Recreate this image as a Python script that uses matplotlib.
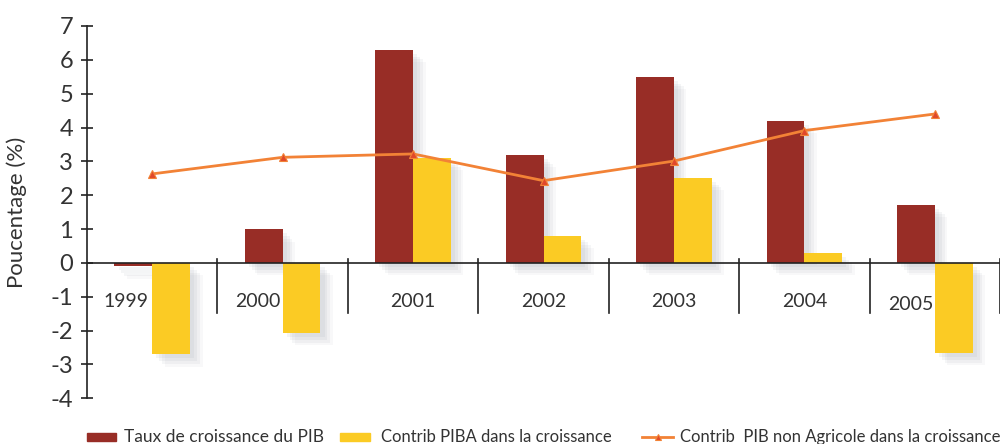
import numpy as np
import matplotlib
matplotlib.use('Agg')
import matplotlib.pyplot as plt
import matplotlib.patheffects as pe
from matplotlib.patches import Rectangle
from matplotlib.lines import Line2D

# Data
years = ['1999', '2000', '2001', '2002', '2003', '2004', '2005']
taux_pib = [-0.1, 1.0, 6.3, 3.2, 5.5, 4.2, 1.72]
contrib_piba = [-2.7, -2.07, 3.11, 0.81, 2.52, 0.30, -2.66]
contrib_non_agri = [2.63, 3.12, 3.22, 2.43, 3.01, 3.91, 4.40]
# horizontal nudge of year labels (to avoid negative bars)
label_shift = [-0.2, -0.19, 0, 0, 0, 0, -0.18]

RED = '#982D26'
YELLOW = '#FBCB24'
ORANGE = '#F28236'
MARKER = '#E0482A'
TEXT = '#333333'

plt.rcParams['font.family'] = ['Lato', 'DejaVu Sans']
plt.rcParams['axes.unicode_minus'] = False

fig = plt.figure(figsize=(10.07, 4.44), dpi=100)
ax = fig.add_axes([87 / 1007, 1 - 398.3 / 444, (1000 - 87) / 1007, (398.3 - 26) / 444])

x = np.arange(len(years))
w = 0.29

# soft shadow under bars
shadow = [pe.SimplePatchShadow(offset=(o, -o), shadow_rgbFace='#7a8290', alpha=a)
          for o, a in [(9, 0.05), (7, 0.07), (5, 0.08), (3, 0.08)]] + [pe.Normal()]

ax.bar(x - w / 2, taux_pib, w, color=RED, path_effects=shadow, zorder=2)
ax.bar(x + w / 2, contrib_piba, w, color=YELLOW, path_effects=shadow, zorder=2)
ax.plot(x, contrib_non_agri, color=ORANGE, lw=2, marker='^', ms=6,
        markerfacecolor=MARKER, markeredgecolor=ORANGE, markeredgewidth=0.8, zorder=4)

# zero line and category separators
ax.axhline(0, color='#222222', lw=1.2, zorder=3)
for b in np.arange(-0.5, len(years), 1.0)[1:]:
    ax.plot([b, b], [0.13, -1.48], color='#222222', lw=1.2, zorder=3)

for i, yr in enumerate(years):
    yy = -1.23 if yr == '2005' else -1.14
    ax.text(x[i] + label_shift[i], yy, yr, ha='center', va='center',
            fontsize=14, color=TEXT, zorder=5)

ax.set_xlim(-0.5, len(years) - 0.5)
ax.set_ylim(-4, 7)
ax.set_yticks(range(-4, 8))
ax.set_xticks([])
for s in ['top', 'right', 'bottom']:
    ax.spines[s].set_visible(False)
ax.spines['left'].set_color('#222222')
ax.spines['left'].set_linewidth(1.2)
ax.tick_params(axis='y', direction='inout', length=8, width=1.2,
               labelsize=17, colors='#222222', pad=6)
for lab in ax.get_yticklabels():
    lab.set_color(TEXT)
ax.set_ylabel('Poucentage (%)', fontsize=16, color=TEXT)
ax.yaxis.set_label_coords(-0.066, 0.5)

# legend drawn manually at the bottom
ly = 1 - 437 / 444
fig.patches.append(Rectangle((87 / 1007, 1 - 441 / 444), 29 / 1007, 8 / 444,
                             transform=fig.transFigure, color=RED))
fig.text(124 / 1007, ly, 'Taux de croissance du PIB', fontsize=12.5, color=TEXT, va='center')
fig.patches.append(Rectangle((340 / 1007, 1 - 441 / 444), 30 / 1007, 8 / 444,
                             transform=fig.transFigure, color=YELLOW))
fig.text(381 / 1007, ly, 'Contrib PIBA dans la croissance', fontsize=12, color=TEXT, va='center')
fig.lines.append(Line2D([642 / 1007, 673 / 1007], [ly, ly], transform=fig.transFigure,
                        color=ORANGE, lw=2))
fig.lines.append(Line2D([657.5 / 1007], [ly], transform=fig.transFigure, marker='^', ms=5,
                        markerfacecolor=MARKER, markeredgecolor=ORANGE, markeredgewidth=0.8))
fig.text(680 / 1007, ly, 'Contrib  PIB non Agricole dans la croissance', fontsize=12,
         color=TEXT, va='center')

fig.savefig('out.png', dpi=100)
